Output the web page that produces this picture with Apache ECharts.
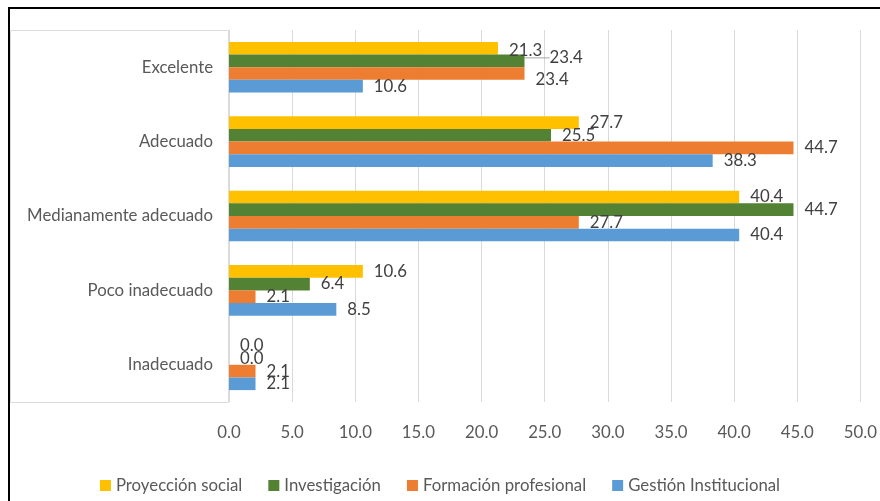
<!DOCTYPE html>
<html><head><meta charset="utf-8">
<script src="https://cdn.jsdelivr.net/npm/echarts@6/dist/echarts.min.js"></script>
<style>html,body{margin:0;padding:0;background:#fff;} #main{width:880px;height:501px;}</style>
</head><body><div id="main"></div>
<script>
const categories = ['Excelente', 'Adecuado', 'Medianamente adecuado', 'Poco inadecuado', 'Inadecuado'];
const seriesNames = ['Proyección social', 'Investigación', 'Formación profesional', 'Gestión Institucional'];
const proyeccionSocial = [21.3, 27.7, 40.4, 10.6, 0.0];
const investigacion = [23.4, 25.5, 44.7, 6.4, 0.0];
const formacionProfesional = [23.4, 44.7, 27.7, 2.1, 2.1];
const gestionInstitucional = [10.6, 38.3, 40.4, 8.5, 2.1];
const xMin = 0, xMax = 50, xStep = 5;

const FONT = 'Lato';
const FS = 16.8;
const colors = ['#FFC000', '#548235', '#ED7D31', '#5B9BD5'];
const values = [proyeccionSocial, investigacion, formacionProfesional, gestionInstitucional];

// manual label nudges (as in the original chart)
const nudges = {
  '0-0': {dx: 0, dy: 2},
  '1-0': {dx: 14, dy: -3, line: true},
  '2-0': {dx: 0, dy: 6}
};

const series = values.map((vals, si) => ({
  name: seriesNames[si],
  type: 'bar',
  barGap: '0%',
  barCategoryGap: '32%',
  itemStyle: {color: colors[si]},
  data: vals.map((v, di) => {
    const n = nudges[si + '-' + di];
    return n && n.line ? {value: v, labelLine: {show: true}} : v;
  }),
  label: {
    show: true, position: 'right', distance: 11,
    formatter: p => Number(p.value).toFixed(1),
    color: '#404040', fontFamily: FONT, fontSize: FS
  },
  labelLine: {show: false, lineStyle: {color: '#a6a6a6', width: 1}},
  labelLayout: function (p) {
    const n = nudges[si + '-' + p.dataIndex];
    return n ? {dx: n.dx, dy: n.dy} : {};
  }
}));

const chart = echarts.init(document.getElementById('main'), null, {renderer: 'canvas'});
chart.setOption({
  animation: false,
  backgroundColor: '#ffffff',
  textStyle: {fontFamily: FONT},
  grid: {left: 229, right: 19, top: 30, bottom: 99, containLabel: false},
  legend: {
    data: seriesNames,
    left: 'center', top: 472,
    icon: 'rect', itemWidth: 11, itemHeight: 11, itemGap: 26,
    textStyle: {color: '#595959', fontFamily: FONT, fontSize: FS}
  },
  xAxis: {
    type: 'value', min: xMin, max: xMax, interval: xStep,
    axisLine: {show: false}, axisTick: {show: false},
    splitLine: {show: true, lineStyle: {color: '#d9d9d9', width: 1}},
    axisLabel: {color: '#595959', fontFamily: FONT, fontSize: FS, margin: 22,
      formatter: v => Number(v).toFixed(1)}
  },
  yAxis: {
    type: 'category', data: categories, inverse: true,
    axisLine: {show: true, lineStyle: {color: '#d9d9d9', width: 1}},
    axisTick: {show: false},
    splitLine: {show: false},
    axisLabel: {color: '#595959', fontFamily: FONT, fontSize: FS, margin: 16}
  },
  graphic: [
    {type: 'rect', z: -10, silent: true, shape: {x: 10.5, y: 30.5, width: 218, height: 372},
      style: {fill: null, stroke: '#dcdcdc', lineWidth: 1}},
    {type: 'line', z: 10, silent: true, shape: {x1: 8, y1: 8, x2: 880, y2: 8},
      style: {stroke: '#000000', lineWidth: 2}},
    {type: 'line', z: 10, silent: true, shape: {x1: 9, y1: 7, x2: 9, y2: 501},
      style: {stroke: '#000000', lineWidth: 2}}
  ],
  series: series
});
</script>
</body></html>
